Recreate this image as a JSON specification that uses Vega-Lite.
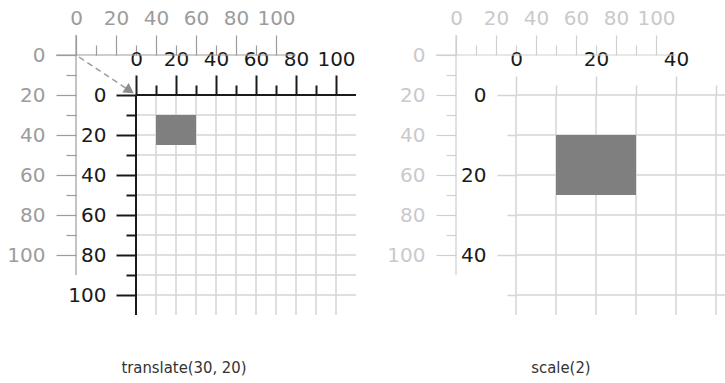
{
  "$schema": "https://vega.github.io/schema/vega-lite/v6.json",
  "width": 725,
  "height": 383,
  "autosize": {"type": "none"},
  "padding": 0,
  "background": "white",
  "config": {
    "view": {"stroke": null},
    "axis": {"domain": false, "grid": false, "labelFont": "DejaVu Sans", "labelFontSize": 20, "labelOverlap": false, "labelFlush": false, "labelBound": false}
  },
  "resolve": {"scale": {"x": "independent", "y": "independent"}, "axis": {"x": "independent", "y": "independent"}},
  "layer": [
    {
      "data": {"values": [
        {"x": -10, "y": 0, "x2": 110, "y2": 0},
        {"x": 0, "y": -10, "x2": 0, "y2": 110}
      ]},
      "mark": {"type": "rule", "color": "#9c9c9c", "strokeWidth": 1.2},
      "encoding": {
        "x": {"field": "x", "type": "quantitative", "scale": {"domain": [-38, 324.5], "nice": false, "zero": false},
          "axis": {"orient": "top", "offset": -55, "title": null, "values": [0,10,20,30,40,50,60,70,80,90,100],
            "tickSize": 20,
            "tickDash": {"condition": {"test": "datum.value % 20 === 0", "value": [100, 0]}, "value": [10, 10]},
            "tickColor": "#9c9c9c", "tickWidth": 1.2, "labelColor": "#9c9c9c", "labelPadding": 7,
            "labelExpr": "datum.value % 20 === 0 ? datum.label : ''"}},
        "y": {"field": "y", "type": "quantitative", "scale": {"domain": [-27.5, 164], "reverse": true, "nice": false, "zero": false},
          "axis": {"orient": "left", "offset": -76, "title": null, "values": [0,10,20,30,40,50,60,70,80,90,100],
            "tickSize": 20,
            "tickDash": {"condition": {"test": "datum.value % 20 === 0", "value": [100, 0]}, "value": [10, 10]},
            "tickColor": "#9c9c9c", "tickWidth": 1.2, "labelColor": "#9c9c9c", "labelPadding": 11,
            "labelExpr": "datum.value % 20 === 0 ? datum.label : ''"}},
        "x2": {"field": "x2"},
        "y2": {"field": "y2"}
      }
    },
    {
      "data": {"values": [{"x": 1.5, "y": 1}, {"x": 26, "y": 17.3}]},
      "mark": {"type": "line", "color": "#9c9c9c", "strokeWidth": 1.5, "strokeDash": [6, 4]},
      "encoding": {
        "x": {"field": "x", "type": "quantitative", "scale": {"domain": [-38, 324.5], "nice": false, "zero": false}, "axis": null},
        "y": {"field": "y", "type": "quantitative", "scale": {"domain": [-27.5, 164], "reverse": true, "nice": false, "zero": false}, "axis": null}
      }
    },
    {
      "data": {"values": [{"x": 26.8, "y": 17.8}]},
      "mark": {"type": "point", "shape": "triangle-right", "filled": true, "color": "#8c8c8c", "opacity": 1, "size": 130, "angle": 33.7},
      "encoding": {
        "x": {"field": "x", "type": "quantitative", "scale": {"domain": [-38, 324.5], "nice": false, "zero": false}, "axis": null},
        "y": {"field": "y", "type": "quantitative", "scale": {"domain": [-27.5, 164], "reverse": true, "nice": false, "zero": false}, "axis": null}
      }
    },
    {
      "data": {"values": [{"x": 54, "y": 156.5, "label": "translate(30, 20)"}]},
      "mark": {"type": "text", "font": "DejaVu Sans Condensed", "fontSize": 16.5, "color": "#333333", "baseline": "middle", "align": "center"},
      "encoding": {
        "x": {"field": "x", "type": "quantitative", "scale": {"domain": [-38, 324.5], "nice": false, "zero": false}, "axis": null},
        "y": {"field": "y", "type": "quantitative", "scale": {"domain": [-27.5, 164], "reverse": true, "nice": false, "zero": false}, "axis": null},
        "text": {"field": "label"}
      }
    },
    {
      "data": {"values": [
        {"x": 10, "y": 0, "x2": 10, "y2": 110},
        {"x": 20, "y": 0, "x2": 20, "y2": 110},
        {"x": 30, "y": 0, "x2": 30, "y2": 110},
        {"x": 40, "y": 0, "x2": 40, "y2": 110},
        {"x": 50, "y": 0, "x2": 50, "y2": 110},
        {"x": 60, "y": 0, "x2": 60, "y2": 110},
        {"x": 70, "y": 0, "x2": 70, "y2": 110},
        {"x": 80, "y": 0, "x2": 80, "y2": 110},
        {"x": 90, "y": 0, "x2": 90, "y2": 110},
        {"x": 100, "y": 0, "x2": 100, "y2": 110},
        {"x": 0, "y": 10, "x2": 110, "y2": 10},
        {"x": 0, "y": 20, "x2": 110, "y2": 20},
        {"x": 0, "y": 30, "x2": 110, "y2": 30},
        {"x": 0, "y": 40, "x2": 110, "y2": 40},
        {"x": 0, "y": 50, "x2": 110, "y2": 50},
        {"x": 0, "y": 60, "x2": 110, "y2": 60},
        {"x": 0, "y": 70, "x2": 110, "y2": 70},
        {"x": 0, "y": 80, "x2": 110, "y2": 80},
        {"x": 0, "y": 90, "x2": 110, "y2": 90},
        {"x": 0, "y": 100, "x2": 110, "y2": 100}
      ]},
      "mark": {"type": "rule", "color": "#d4d4d4", "strokeWidth": 1.5},
      "encoding": {
        "x": {"field": "x", "type": "quantitative", "scale": {"domain": [-68, 294.5], "nice": false, "zero": false},
          "axis": {"orient": "top", "offset": -95, "title": null, "values": [0,10,20,30,40,50,60,70,80,90,100],
            "tickSize": 20,
            "tickDash": {"condition": {"test": "datum.value % 20 === 0", "value": [100, 0]}, "value": [10, 10]},
            "tickColor": "#1a1a1a", "tickWidth": 2, "labelColor": "#1a1a1a", "labelPadding": 6,
            "labelExpr": "datum.value % 20 === 0 ? datum.label : ''"}},
        "y": {"field": "y", "type": "quantitative", "scale": {"domain": [-47.5, 144], "reverse": true, "nice": false, "zero": false},
          "axis": {"orient": "left", "offset": -136, "title": null, "values": [0,10,20,30,40,50,60,70,80,90,100],
            "tickSize": 20,
            "tickDash": {"condition": {"test": "datum.value % 20 === 0", "value": [100, 0]}, "value": [10, 10]},
            "tickColor": "#1a1a1a", "tickWidth": 2, "labelColor": "#1a1a1a", "labelPadding": 10,
            "labelExpr": "datum.value % 20 === 0 ? datum.label : ''"}},
        "x2": {"field": "x2"},
        "y2": {"field": "y2"}
      }
    },
    {
      "data": {"values": [
        {"x": 0, "y": 0, "x2": 110, "y2": 0},
        {"x": 0, "y": 0, "x2": 0, "y2": 110}
      ]},
      "mark": {"type": "rule", "color": "#1a1a1a", "strokeWidth": 2},
      "encoding": {
        "x": {"field": "x", "type": "quantitative", "scale": {"domain": [-68, 294.5], "nice": false, "zero": false}, "axis": null},
        "y": {"field": "y", "type": "quantitative", "scale": {"domain": [-47.5, 144], "reverse": true, "nice": false, "zero": false}, "axis": null},
        "x2": {"field": "x2"},
        "y2": {"field": "y2"}
      }
    },
    {
      "data": {"values": [{"x": 10, "y": 10, "x2": 30, "y2": 25}]},
      "mark": {"type": "rect", "color": "#7f7f7f"},
      "encoding": {
        "x": {"field": "x", "type": "quantitative", "scale": {"domain": [-68, 294.5], "nice": false, "zero": false}, "axis": null},
        "y": {"field": "y", "type": "quantitative", "scale": {"domain": [-47.5, 144], "reverse": true, "nice": false, "zero": false}, "axis": null},
        "x2": {"field": "x2"},
        "y2": {"field": "y2"}
      }
    },
    {
      "data": {"values": [
        {"x": -10, "y": 0, "x2": 110, "y2": 0},
        {"x": 0, "y": -10, "x2": 0, "y2": 110}
      ]},
      "mark": {"type": "rule", "color": "#cfcfcf", "strokeWidth": 1.2},
      "encoding": {
        "x": {"field": "x", "type": "quantitative", "scale": {"domain": [-228, 134.5], "nice": false, "zero": false},
          "axis": {"orient": "top", "offset": -55, "title": null, "values": [0,10,20,30,40,50,60,70,80,90,100],
            "tickSize": 20,
            "tickDash": {"condition": {"test": "datum.value % 20 === 0", "value": [100, 0]}, "value": [10, 10]},
            "tickColor": "#cfcfcf", "tickWidth": 1.2, "labelColor": "#cacaca", "labelPadding": 7,
            "labelExpr": "datum.value % 20 === 0 ? datum.label : ''"}},
        "y": {"field": "y", "type": "quantitative", "scale": {"domain": [-27.5, 164], "reverse": true, "nice": false, "zero": false},
          "axis": {"orient": "left", "offset": -456, "title": null, "values": [0,10,20,30,40,50,60,70,80,90,100],
            "tickSize": 20,
            "tickDash": {"condition": {"test": "datum.value % 20 === 0", "value": [100, 0]}, "value": [10, 10]},
            "tickColor": "#cfcfcf", "tickWidth": 1.2, "labelColor": "#cacaca", "labelPadding": 11,
            "labelExpr": "datum.value % 20 === 0 ? datum.label : ''"}},
        "x2": {"field": "x2"},
        "y2": {"field": "y2"}
      }
    },
    {
      "data": {"values": [{"x": 52.5, "y": 156.5, "label": "scale(2)"}]},
      "mark": {"type": "text", "font": "DejaVu Sans Condensed", "fontSize": 16.5, "color": "#333333", "baseline": "middle", "align": "center"},
      "encoding": {
        "x": {"field": "x", "type": "quantitative", "scale": {"domain": [-228, 134.5], "nice": false, "zero": false}, "axis": null},
        "y": {"field": "y", "type": "quantitative", "scale": {"domain": [-27.5, 164], "reverse": true, "nice": false, "zero": false}, "axis": null},
        "text": {"field": "label"}
      }
    },
    {
      "data": {"values": [
        {"x": 0, "y": 0, "x2": 0, "y2": 55},
        {"x": 10, "y": 0, "x2": 10, "y2": 55},
        {"x": 20, "y": 0, "x2": 20, "y2": 55},
        {"x": 30, "y": 0, "x2": 30, "y2": 55},
        {"x": 40, "y": 0, "x2": 40, "y2": 55},
        {"x": 50, "y": 0, "x2": 50, "y2": 55},
        {"x": 0, "y": 0, "x2": 60, "y2": 0},
        {"x": 0, "y": 10, "x2": 60, "y2": 10},
        {"x": 0, "y": 20, "x2": 60, "y2": 20},
        {"x": 0, "y": 30, "x2": 60, "y2": 30},
        {"x": 0, "y": 40, "x2": 60, "y2": 40},
        {"x": 0, "y": 50, "x2": 60, "y2": 50}
      ]},
      "mark": {"type": "rule", "color": "#d4d4d4", "strokeWidth": 1.5},
      "encoding": {
        "x": {"field": "x", "type": "quantitative", "scale": {"domain": [-129, 52.25], "nice": false, "zero": false},
          "axis": {"orient": "top", "offset": -95, "title": null, "values": [0,10,20,30,40,50],
            "tickSize": 19,
            "tickDash": {"condition": {"test": "datum.value % 20 === 0", "value": [100, 0]}, "value": [10, 10]},
            "tickColor": "#d4d4d4", "tickWidth": 1.5, "labelColor": "#1a1a1a", "labelPadding": 7,
            "labelExpr": "datum.value % 20 === 0 ? datum.label : ''"}},
        "y": {"field": "y", "type": "quantitative", "scale": {"domain": [-23.75, 72], "reverse": true, "nice": false, "zero": false},
          "axis": {"orient": "left", "offset": -516, "title": null, "values": [0,10,20,30,40,50],
            "tickSize": 19,
            "tickDash": {"condition": {"test": "datum.value % 20 === 0", "value": [100, 0]}, "value": [9, 10]},
            "tickColor": "#d4d4d4", "tickWidth": 1.5, "labelColor": "#1a1a1a", "labelPadding": 11,
            "labelExpr": "datum.value % 20 === 0 ? datum.label : ''"}},
        "x2": {"field": "x2"},
        "y2": {"field": "y2"}
      }
    },
    {
      "data": {"values": [{"x": 10, "y": 10, "x2": 30, "y2": 25}]},
      "mark": {"type": "rect", "color": "#7f7f7f"},
      "encoding": {
        "x": {"field": "x", "type": "quantitative", "scale": {"domain": [-129, 52.25], "nice": false, "zero": false}, "axis": null},
        "y": {"field": "y", "type": "quantitative", "scale": {"domain": [-23.75, 72], "reverse": true, "nice": false, "zero": false}, "axis": null},
        "x2": {"field": "x2"},
        "y2": {"field": "y2"}
      }
    }
  ]
}
